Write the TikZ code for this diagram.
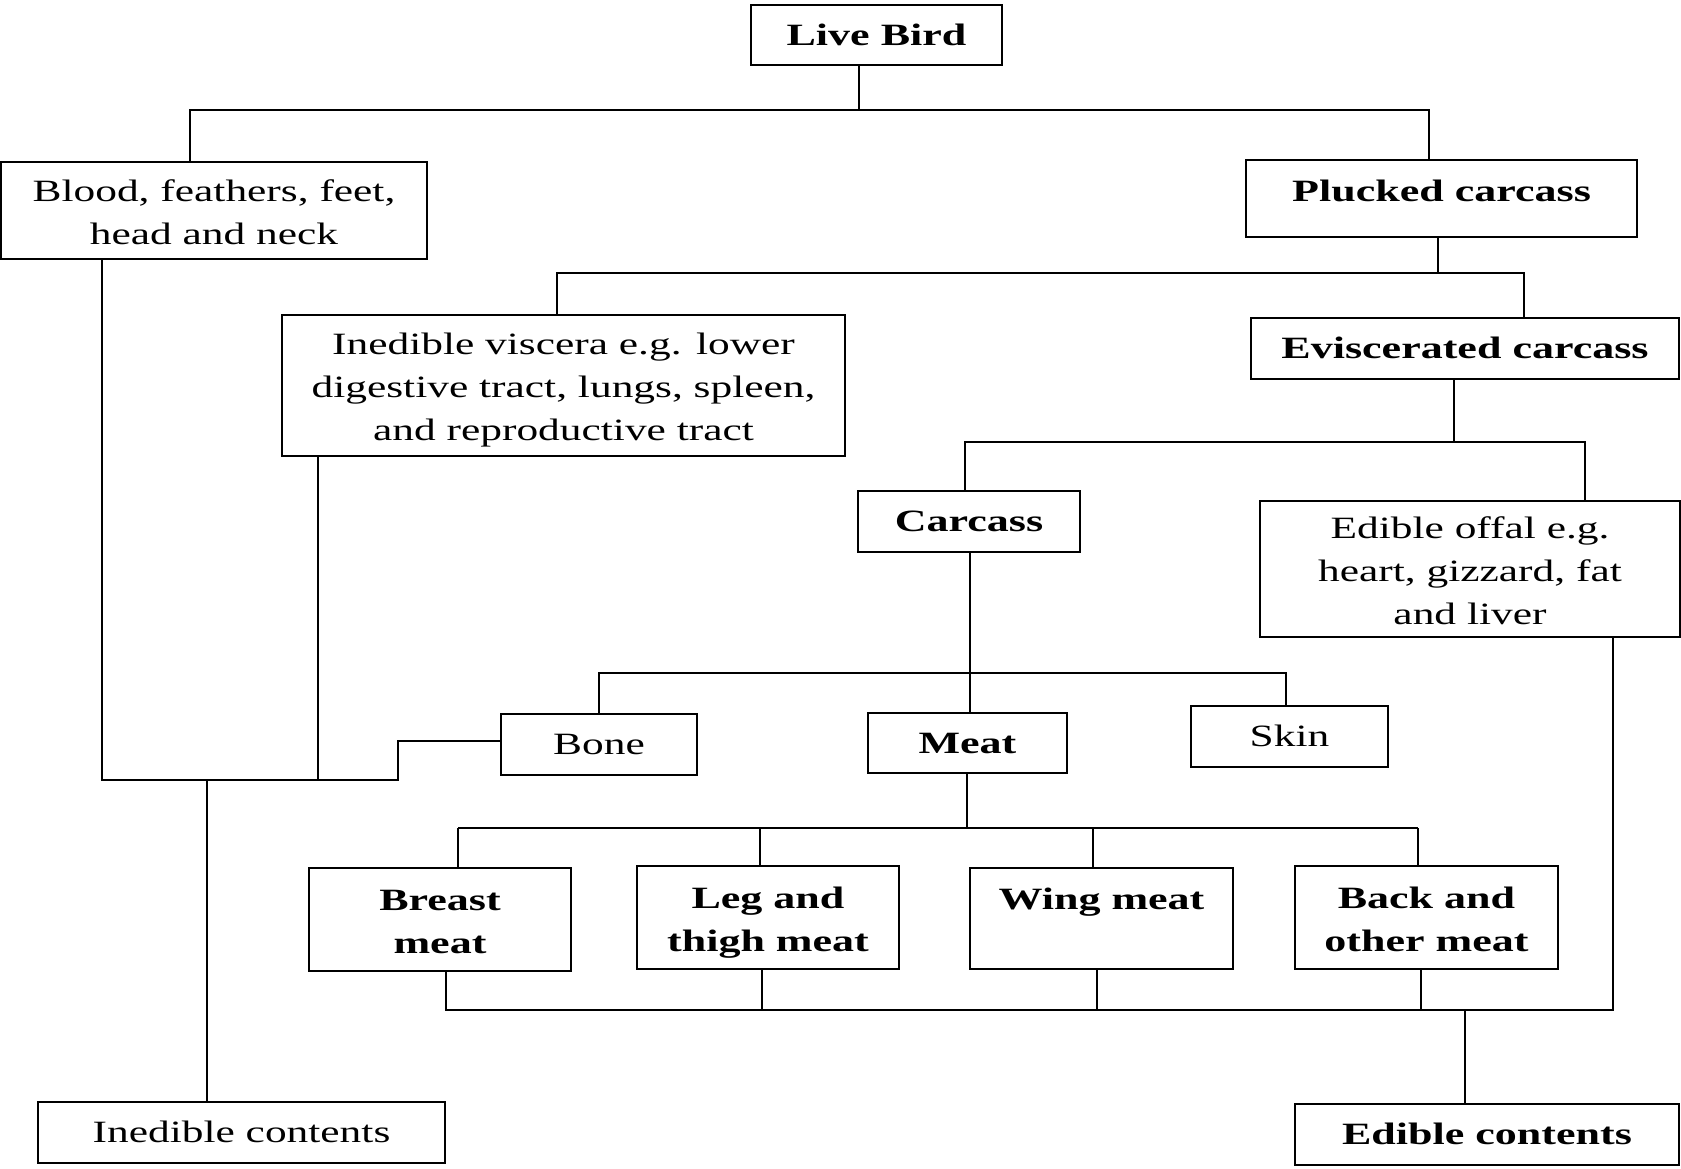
\documentclass[tikz,border=0pt]{standalone}
\usepackage{fontspec}
\setmainfont{Liberation Serif}[FakeStretch=1.42]
\newfontfamily\regf{Liberation Serif}[FakeStretch=1.40]
\newcommand\rsone{\rule[-13.5pt]{0pt}{47pt}}
\newcommand\rs{\rule[-9.5pt]{0pt}{43pt}}
\newcommand\upstrut{\rule[-28.5pt]{0pt}{62pt}}
\newcommand\mlines[1]{{\renewcommand\arraystretch{0}\begin{tabular}{@{}c@{}}#1\end{tabular}}}
\begin{document}
\begin{tikzpicture}[x=1pt,y=-1pt,
  box/.style={draw,line width=2pt,rectangle,inner sep=0pt,
    font=\regf\fontsize{31}{43}\selectfont,
    execute at begin node=\rsone},
  bbox/.style={box,font=\fontsize{31}{43}\selectfont\bfseries},
  ml/.style={execute at begin node={}},
  conn/.style={line width=2pt}]
\useasboundingbox (0,0) rectangle (1681,1168);
\fill[white] (0,0) rectangle (1681,1168);
% boxes
\node[bbox,minimum width=251pt,minimum height=60pt] (live) at (876.5,35) {Live Bird};
\node[box,ml,minimum width=426pt,minimum height=97pt] (blood) at (214,210.5)
  {\mlines{\rs Blood, feathers, feet,\\\rs head and neck}};
\node[bbox,minimum width=391pt,minimum height=77pt,
  execute at begin node=\upstrut] (plucked) at (1441.5,198.5) {Plucked carcass};
\node[box,ml,minimum width=563pt,minimum height=141pt] (visc) at (563.5,385.5)
  {\mlines{\rs Inedible viscera e.g. lower\\\rs digestive tract, lungs, spleen,\\\rs and reproductive tract}};
\node[bbox,minimum width=428pt,minimum height=61pt] (evisc) at (1465,348.5) {Eviscerated carcass};
\node[bbox,minimum width=222pt,minimum height=61pt] (carcass) at (969,521.5) {Carcass};
\node[box,ml,minimum width=420pt,minimum height=136pt] (offal) at (1470,569)
  {\mlines{\rs Edible offal e.g.\\\rs heart, gizzard, fat\\\rs and liver}};
\node[box,minimum width=196pt,minimum height=61pt] (bone) at (599,744.5) {Bone};
\node[bbox,minimum width=199pt,minimum height=60pt] (meat) at (967.5,743) {Meat};
\node[box,minimum width=197pt,minimum height=61pt] (skin) at (1289.5,736.5) {Skin};
\node[bbox,ml,minimum width=262pt,minimum height=103pt] (breast) at (440,919.5)
  {\mlines{\rs Breast\\\rs meat}};
\node[bbox,ml,minimum width=262pt,minimum height=103pt] (leg) at (768,917.5)
  {\mlines{\rs Leg and\\\rs thigh meat}};
\node[bbox,ml,minimum width=263pt,minimum height=101pt] (wing) at (1101.5,918.5)
  {\mlines{\rs Wing meat\\\rs}};
\node[bbox,ml,minimum width=263pt,minimum height=103pt] (back) at (1426.5,917.5)
  {\mlines{\rs Back and\\\rs other meat}};
\node[box,minimum width=407pt,minimum height=61pt] (inedc) at (241.5,1132.5) {Inedible contents};
\node[bbox,minimum width=384pt,minimum height=61pt] (edc) at (1487,1134.5) {Edible contents};
% junction coordinates
\coordinate (a0) at (859,110);
\coordinate (al) at (190,110);
\coordinate (ar) at (1429,110);
\coordinate (b0) at (1438,273);
\coordinate (bl) at (557,273);
\coordinate (br) at (1524,273);
\coordinate (c0) at (1454,442);
\coordinate (cl) at (965,442);
\coordinate (cr) at (1585,442);
\coordinate (d0) at (970,673);
\coordinate (dl) at (599,673);
\coordinate (dr) at (1286,673);
\coordinate (e0) at (967,828);
\coordinate (e1) at (458,828);
\coordinate (e2) at (760,828);
\coordinate (e3) at (1093,828);
\coordinate (e4) at (1418,828);
\coordinate (f1) at (102,780);
\coordinate (f2) at (318,780);
\coordinate (f3) at (398,780);
\coordinate (f4) at (398,741);
\coordinate (f5) at (207,780);
\coordinate (g1) at (446,1010);
\coordinate (g2) at (762,1010);
\coordinate (g3) at (1097,1010);
\coordinate (g4) at (1421,1010);
\coordinate (g5) at (1613,1010);
\coordinate (g6) at (1465,1010);
% connectors
\draw[conn] (live.south -| a0) -- (a0);
\draw[conn] (blood.north -| al) -- (al) -- (ar) -- (plucked.north -| ar);
\draw[conn] (plucked.south -| b0) -- (b0);
\draw[conn] (visc.north -| bl) -- (bl) -- (br) -- (evisc.north -| br);
\draw[conn] (evisc.south -| c0) -- (c0);
\draw[conn] (carcass.north -| cl) -- (cl) -- (cr) -- (offal.north -| cr);
\draw[conn] (carcass.south -| d0) -- (meat.north -| d0);
\draw[conn] (bone.north -| dl) -- (dl) -- (dr) -- (skin.north -| dr);
\draw[conn] (meat.south -| e0) -- (e0);
\draw[conn] (e1) -- (e4);
\draw[conn] (e1) -- (breast.north -| e1);
\draw[conn] (e2) -- (leg.north -| e2);
\draw[conn] (e3) -- (wing.north -| e3);
\draw[conn] (e4) -- (back.north -| e4);
\draw[conn] (blood.south -| f1) -- (f1) -- (f3) -- (f4) -- (bone.west |- f4);
\draw[conn] (visc.south -| f2) -- (f2);
\draw[conn] (f5) -- (inedc.north -| f5);
\draw[conn] (breast.south -| g1) -- (g1) -- (g5) -- (offal.south -| g5);
\draw[conn] (leg.south -| g2) -- (g2);
\draw[conn] (wing.south -| g3) -- (g3);
\draw[conn] (back.south -| g4) -- (g4);
\draw[conn] (g6) -- (edc.north -| g6);
\end{tikzpicture}
\end{document}
